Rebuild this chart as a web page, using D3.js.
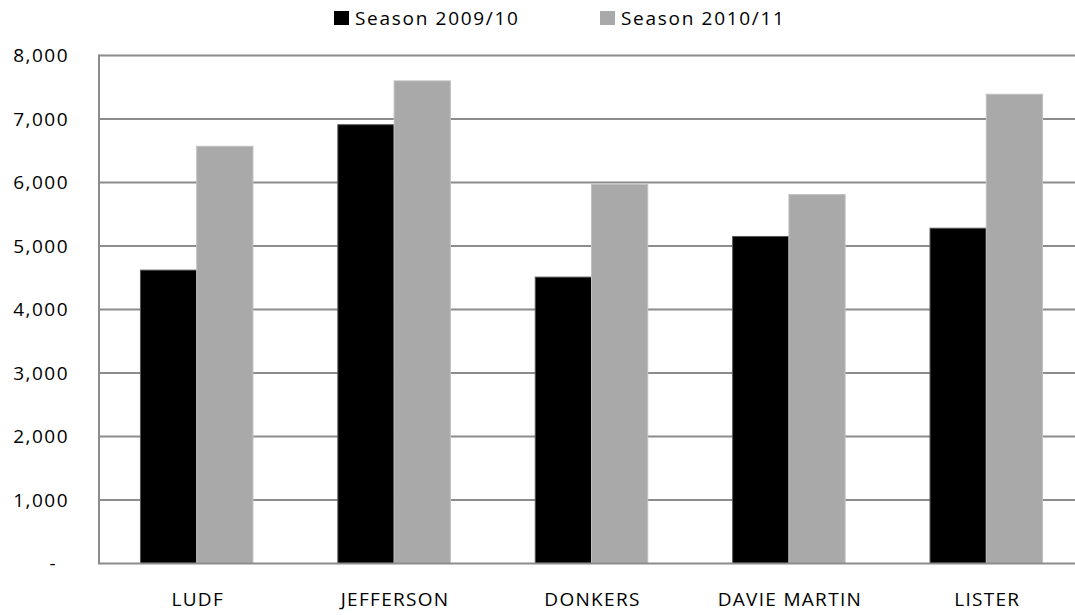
<!DOCTYPE html>
<html>
<head>
<meta charset="utf-8">
<script src="https://d3js.org/d3.v7.min.js"></script>
<style>
  body { margin: 0; background: #fff; overflow: hidden; }
  text { font-family: "Open Sans", "DejaVu Sans", sans-serif; fill: #000; }
</style>
</head>
<body>
<div id="chart"></div>
<script>
let categories = ["LUDF", "JEFFERSON", "DONKERS", "DAVIE MARTIN", "LISTER"];
let seriesNames = ["Season 2009/10", "Season 2010/11"];
let season0910 = [4620, 6910, 4510, 5150, 5280];
let season1011 = [6570, 7600, 5970, 5810, 7390];
let yTicks = [0, 1000, 2000, 3000, 4000, 5000, 6000, 7000, 8000];
let colors = ["#000000", "#a9a9a9"];
let strokes = ["#555555", "#c0c0c0"];

let width = 1075, height = 615;
let mLeft = 99, mRight = 1084, mTop = 55.5, mBottom = 563.5;

let svg = d3.select("#chart")
  .append("svg")
  .attr("width", width)
  .attr("height", height);

let x = d3.scaleBand()
  .domain(categories)
  .range([mLeft, mRight])
  .paddingInner(0.43)
  .paddingOuter(0.21);

let x1 = d3.scaleBand()
  .domain([0, 1])
  .range([0, x.bandwidth()]);

let y = d3.scaleLinear()
  .domain([0, 8000])
  .range([mBottom, mTop]);

// gridlines
svg.append("g")
  .selectAll("line")
  .data(yTicks.slice(1))
  .enter()
  .append("line")
  .attr("x1", mLeft)
  .attr("x2", mRight)
  .attr("y1", d => y(d))
  .attr("y2", d => y(d))
  .attr("stroke", "#8c8c8c")
  .attr("stroke-width", 2);

// bars
let rows = categories.map((c, i) => ({ cat: c, vals: [season0910[i], season1011[i]] }));
let groups = svg.append("g")
  .selectAll("g")
  .data(rows)
  .enter()
  .append("g")
  .attr("transform", d => "translate(" + x(d.cat) + ",0)");

groups.selectAll("rect")
  .data(d => d.vals)
  .enter()
  .append("rect")
  .attr("x", (d, i) => x1(i))
  .attr("y", d => y(d))
  .attr("width", x1.bandwidth())
  .attr("height", d => y(0) - y(d))
  .style("fill", (d, i) => colors[i])
  .style("stroke", (d, i) => strokes[i])
  .style("stroke-width", 1);

// axes lines
svg.append("line")
  .attr("x1", mLeft).attr("x2", mLeft)
  .attr("y1", mTop - 1).attr("y2", mBottom)
  .attr("stroke", "#8c8c8c").attr("stroke-width", 2);
svg.append("line")
  .attr("x1", mLeft - 1).attr("x2", mRight)
  .attr("y1", mBottom).attr("y2", mBottom)
  .attr("stroke", "#8c8c8c").attr("stroke-width", 2);

// y labels
let fmt = d3.format(",");
svg.append("g")
  .selectAll("text")
  .data(yTicks)
  .enter()
  .append("text")
  .attr("x", d => d === 0 ? 57 : 69)
  .attr("y", d => y(d) + 6.5)
  .attr("text-anchor", "end")
  .style("font-size", "19px")
  .style("letter-spacing", "1.5px")
  .text(d => d === 0 ? "-" : fmt(d));

// x labels
svg.append("g")
  .selectAll("text")
  .data(categories)
  .enter()
  .append("text")
  .attr("x", d => x(d) + x.bandwidth() / 2 + 1)
  .attr("y", 606)
  .attr("text-anchor", "middle")
  .style("font-size", "19px")
  .style("letter-spacing", "1.3px")
  .text(d => d);

// legend
let legendX = [334, 600];
let legend = svg.append("g")
  .selectAll("g")
  .data(seriesNames)
  .enter()
  .append("g")
  .attr("transform", (d, i) => "translate(" + legendX[i] + ",11)");
legend.append("rect")
  .attr("width", 15)
  .attr("height", 14)
  .style("fill", (d, i) => colors[i]);
legend.append("text")
  .attr("x", 21)
  .attr("y", 14)
  .style("font-size", "19px")
  .style("letter-spacing", "1.7px")
  .text(d => d);
</script>
</body>
</html>
